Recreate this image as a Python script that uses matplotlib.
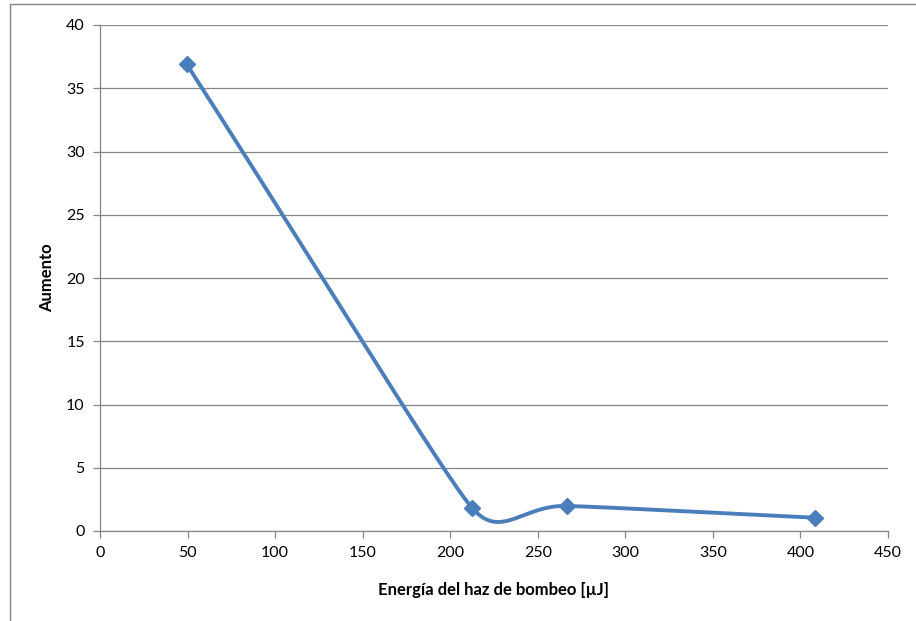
import numpy as np
import matplotlib
matplotlib.use("Agg")
import matplotlib.pyplot as plt
from matplotlib.patches import Rectangle

# pump energy (uJ) vs gain
energia = [49.5, 212.4, 266.5, 408.4]
aumento = [36.9, 1.84, 1.98, 1.05]

x_ticks = [0, 50, 100, 150, 200, 250, 300, 350, 400, 450]
y_ticks = [0, 5, 10, 15, 20, 25, 30, 35, 40]

LINE_BLUE = "#4A7EBB"
GRID_GRAY = "#868686"

plt.rcParams['font.family'] = ['Lato', 'DejaVu Sans']


def smooth_curve(ax, xs, ys, k=0.47, n=80):
    """Bezier smoothing in screen space; handle length limited by the
    shorter neighbouring segment so long runs stay almost straight."""
    pts = ax.transData.transform(np.column_stack([xs, ys]))
    m = len(pts)
    seg_len = [np.hypot(*(pts[i + 1] - pts[i])) for i in range(m - 1)]
    tangents, handles = [], []
    for i in range(m):
        prev_p = pts[i - 1] if i > 0 else pts[i]
        next_p = pts[i + 1] if i + 1 < m else pts[i]
        d = next_p - prev_p
        tangents.append(d / np.hypot(*d))
        near = [seg_len[j] for j in (i - 1, i) if 0 <= j < m - 1]
        handles.append(k * min(near))
    out = [pts[0]]
    t = np.linspace(0, 1, n)[1:, None]
    for i in range(m - 1):
        p1, p2 = pts[i], pts[i + 1]
        c1 = p1 + tangents[i] * handles[i]
        c2 = p2 - tangents[i + 1] * handles[i + 1]
        seg = ((1 - t) ** 3) * p1 + 3 * ((1 - t) ** 2) * t * c1 \
            + 3 * (1 - t) * t ** 2 * c2 + t ** 3 * p2
        out.extend(seg)
    return ax.transData.inverted().transform(np.array(out))


fig = plt.figure(figsize=(9.16, 6.21), dpi=100)
fig.patch.set_facecolor("white")

# chart area border
fig.patches.append(Rectangle((10 / 916, -0.1), 1.2, (621 - 4) / 621 + 0.1,
                             transform=fig.transFigure, fill=False,
                             edgecolor=GRID_GRAY, linewidth=1.0))

ax = fig.add_axes([100 / 916, 90 / 621, 788 / 916, 506 / 621])
ax.set_xlim(0, 450)
ax.set_ylim(0, 40)
ax.set_xticks(x_ticks)
ax.set_yticks(y_ticks)

ax.grid(axis='y', color=GRID_GRAY, linewidth=0.9)
ax.set_axisbelow(True)
for side in ['top', 'right']:
    ax.spines[side].set_visible(False)
for side in ['left', 'bottom']:
    ax.spines[side].set_color(GRID_GRAY)
    ax.spines[side].set_linewidth(0.9)
ax.tick_params(axis='both', direction='out', length=5, width=0.9,
               color=GRID_GRAY, labelsize=11.5, pad=6)

curve = smooth_curve(ax, energia, aumento)
ax.plot(curve[:, 0], curve[:, 1], color=LINE_BLUE, linewidth=2.8,
        solid_capstyle='round', clip_on=False)
ax.plot(energia, aumento, linestyle='none', marker='D', markersize=8,
        color=LINE_BLUE, clip_on=False)

ax.set_xlabel("Energía del haz de bombeo [µJ]", fontsize=12,
              fontweight='bold', labelpad=16)
ax.set_ylabel("Aumento", fontsize=12, fontweight='bold', labelpad=8)

fig.savefig("out.png", dpi=100)
